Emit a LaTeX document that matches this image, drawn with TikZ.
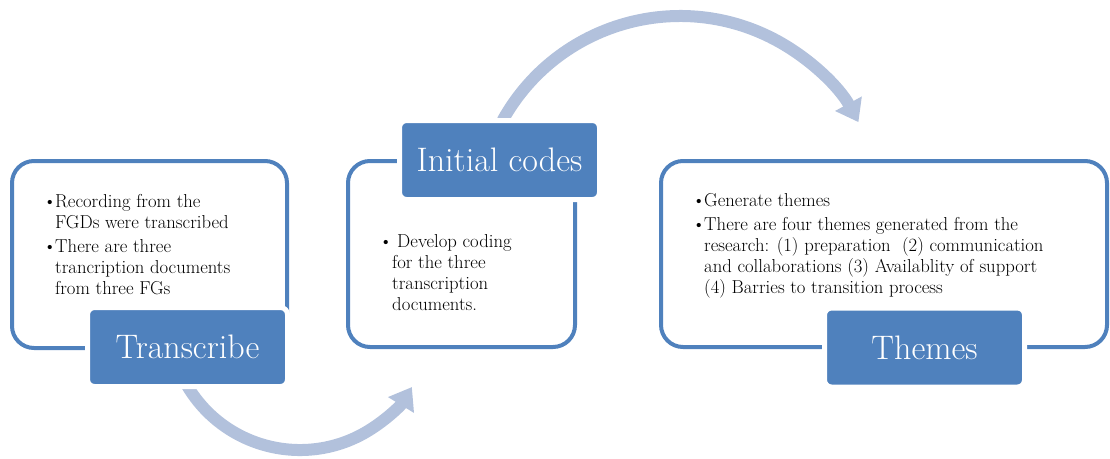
\documentclass[tikz,border=0pt]{standalone}
\usetikzlibrary{arrows.meta}
\definecolor{mainblue}{RGB}{79,129,189}
\definecolor{arrowblue}{RGB}{178,193,220}
\newcommand{\itembul}[1]{\hspace*{#1}\textbullet}
\begin{document}
\begin{tikzpicture}[x=1pt,y=-1pt,
  outerbox/.style={draw=mainblue, line width=4pt, rounded corners=22pt},
  labelbox/.style={fill=mainblue, draw=white, line width=5pt, rounded corners=7pt,
    text=white, font=\fontsize{34}{40}\selectfont, inner sep=0pt,
    minimum width=200pt, minimum height=79pt},
  bodytext/.style={font=\fontsize{18.7}{21}\selectfont, inner sep=0pt, anchor=base west},
  flow/.style={draw=arrowblue, line width=12pt, -{Triangle[width=29pt,length=21pt]}}]
\useasboundingbox (0,0) rectangle (1110,458);

% curved arrows (behind the boxes)
\coordinate (flowAstart) at (186.5,384.5);
\coordinate (flowBstart) at (502.5,120.6);
\draw[flow] (flowAstart) arc[start angle=150, end angle=31.3, radius=131];
\draw[flow] (flowBstart) arc[start angle=209, end angle=331.5, radius=203];

% outer frames
\draw[outerbox] (12,161) rectangle (287,348);
\draw[outerbox] (348,161) rectangle (575,347);
\draw[outerbox] (661,161) rectangle (1107,347);

% label boxes
\node[labelbox] (transcribe) at (187.5,347) {Transcribe};
\node[labelbox] (initial) at (499.5,160) {Initial codes};
\node[labelbox] (themes) at (924.5,347.5) {Themes};

% body texts
\node[bodytext] (t1) at (46,207) {%
\begin{tabular}[t]{@{}p{9pt}@{}l@{}}
\itembul{-3pt} & Recording from the\\
 & FGDs were transcribed\\[3pt]
\itembul{-3pt} & There are three\\
 & trancription documents\\
 & from three FGs
\end{tabular}};

\node[bodytext] (t2) at (382,247) {%
\begin{tabular}[t]{@{}p{10pt}@{}l@{}}
\itembul{-3pt} & \hspace{5pt}Develop coding\\
 & for the three\\
 & transcription\\
 & documents.
\end{tabular}};

\node[bodytext] (t3) at (696,206) {%
\begin{tabular}[t]{@{}p{8pt}@{}l@{}}
\itembul{-4pt} & Generate themes\\[3pt]
\itembul{-4pt} & There are four themes generated from the\\
 & research: (1) preparation \ (2) communication\\
 & and collaborations (3) Availablity of support\\
 & (4) Barries to transition process
\end{tabular}};
\end{tikzpicture}
\end{document}
